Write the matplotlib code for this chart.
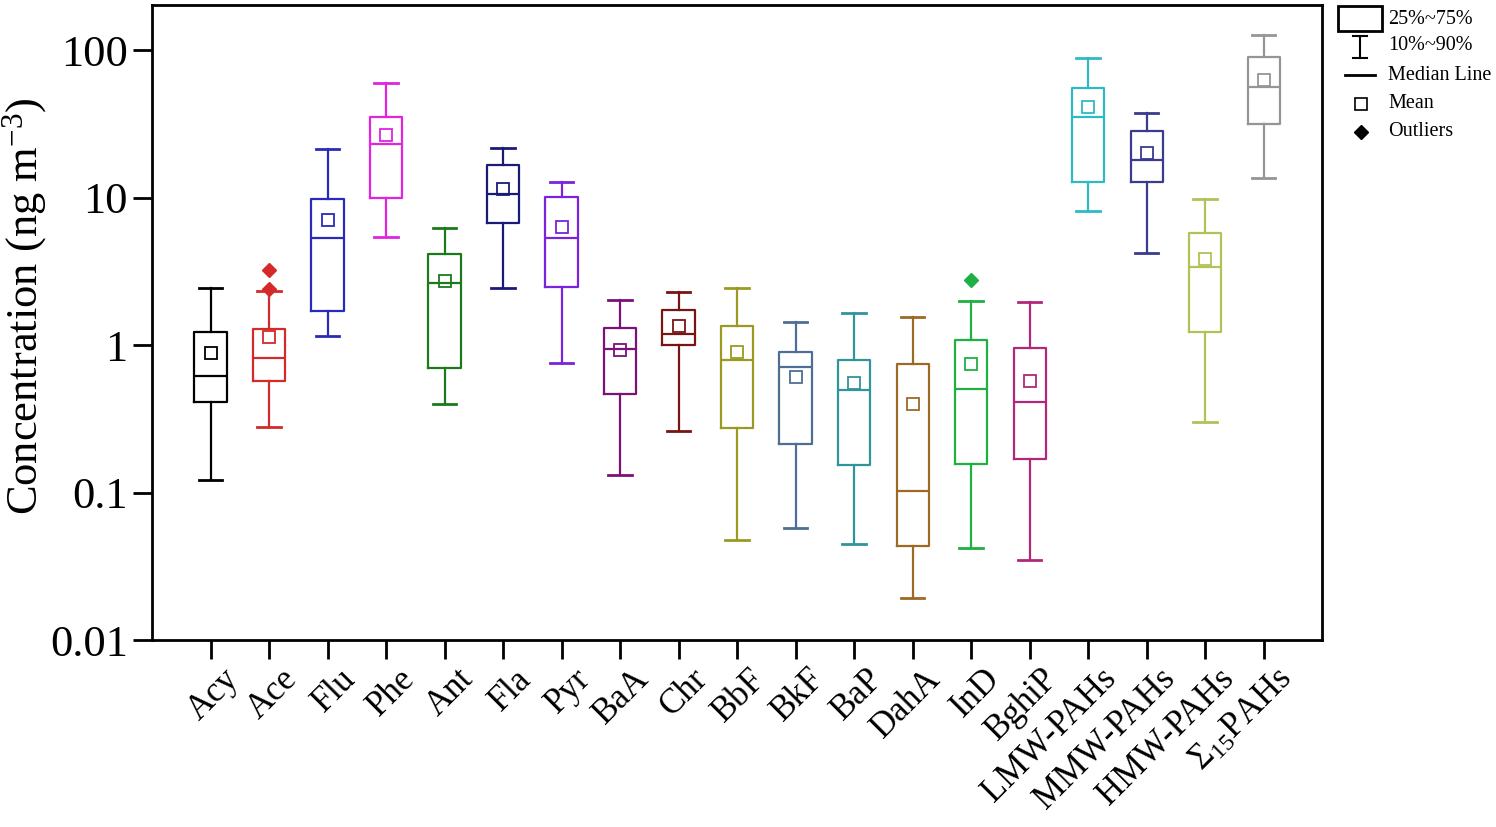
import matplotlib
matplotlib.use("Agg")
import matplotlib.pyplot as plt
import matplotlib.transforms as mtransforms
from matplotlib.patches import Rectangle
from matplotlib.lines import Line2D

plt.rcParams['font.family'] = ['Liberation Serif', 'DejaVu Serif']
plt.rcParams['mathtext.fontset'] = 'custom'
plt.rcParams['mathtext.rm'] = 'Liberation Serif'
plt.rcParams['mathtext.it'] = 'Liberation Serif:italic'

# data (ng m-3)
labels = ["Acy", "Ace", "Flu", "Phe", "Ant", "Fla", "Pyr", "BaA", "Chr", "BbF",
          "BkF", "BaP", "DahA", "InD", "BghiP", "LMW-PAHs", "MMW-PAHs",
          "HMW-PAHs", r"$\Sigma_{15}$PAHs"]
p10 = [0.122, 0.279, 1.16, 5.39, 0.398, 2.44, 0.756, 0.132, 0.263, 0.048,
       0.0577, 0.0451, 0.0192, 0.0419, 0.0347, 8.14, 4.19, 0.299, 13.5]
q25 = [0.414, 0.572, 1.69, 9.87, 0.697, 6.71, 2.47, 0.465, 1.0, 0.275,
       0.212, 0.153, 0.0436, 0.156, 0.168, 12.7, 12.7, 1.22, 31.5]
median = [0.62, 0.815, 5.28, 23.2, 2.63, 10.5, 5.28, 0.946, 1.18, 0.79,
          0.715, 0.495, 0.103, 0.503, 0.41, 35.0, 17.9, 3.36, 55.8]
q75 = [1.23, 1.28, 9.8, 35.1, 4.11, 16.6, 10.1, 1.31, 1.74, 1.35,
       0.90, 0.787, 0.748, 1.08, 0.962, 55.0, 28.1, 5.77, 90.1]
p90 = [2.43, 2.33, 21.2, 59.5, 6.23, 21.8, 12.7, 2.02, 2.30, 2.44,
       1.44, 1.64, 1.56, 1.98, 1.96, 88.7, 37.6, 9.82, 126]
means = [0.88, 1.13, 7.06, 26.5, 2.70, 11.4, 6.31, 0.92, 1.35, 0.90,
         0.605, 0.557, 0.398, 0.743, 0.572, 40.8, 19.9, 3.83, 62.6]
outliers = [[], [2.4, 3.25], [], [], [], [], [], [], [], [],
            [], [], [], [2.78], [], [], [], [], []]
colors = ["#000000", "#d42a2a", "#2a2ab8", "#e024e0", "#1c7a1c", "#1a1a78",
          "#7a22dc", "#7a127a", "#781414", "#9a9a22", "#4d6f93", "#2f949c",
          "#9c6a24", "#1fb043", "#b0287a", "#2ebac4", "#3a3a8e", "#b3c257",
          "#959595"]

fig = plt.figure(figsize=(14.96, 8.27), dpi=100)
ax = fig.add_axes([0.1016, 0.226, 0.7822, 0.768])

for i in range(len(labels)):
    c = colors[i]
    stats = [dict(med=median[i], q1=q25[i], q3=q75[i], whislo=p10[i],
                  whishi=p90[i], mean=means[i], fliers=outliers[i])]
    ax.bxp(stats, positions=[i + 1], widths=0.55, capwidths=0.4,
           showmeans=True, showfliers=True, manage_ticks=False,
           boxprops=dict(color=c, lw=1.6),
           medianprops=dict(color=c, lw=1.6),
           whiskerprops=dict(color=c, lw=1.6),
           capprops=dict(color=c, lw=2),
           meanprops=dict(marker='s', markerfacecolor='none',
                          markeredgecolor=c, markersize=9, mew=1.3),
           flierprops=dict(marker='D', markerfacecolor=c, markeredgecolor=c,
                           markersize=7))

ax.set_yscale('log')
ax.set_ylim(0.01, 202)
ax.set_xlim(0, 20)
ax.set_yticks([0.01, 0.1, 1, 10, 100])
ax.set_yticklabels(["0.01", "0.1", "1", "10", "100"], fontsize=32)
ax.yaxis.set_minor_locator(matplotlib.ticker.NullLocator())
ax.set_xticks(range(1, 20))
ax.set_xticklabels(labels, rotation=45, ha='right', rotation_mode='anchor',
                   fontsize=25)
ax.tick_params(axis='both', direction='out', length=14, width=2)
ax.tick_params(axis='x', pad=2)
shift = mtransforms.ScaledTranslation(12 / 100, 0, fig.dpi_scale_trans)
for lab in ax.get_xticklabels():
    lab.set_transform(lab.get_transform() + shift)
for s in ax.spines.values():
    s.set_linewidth(2)

# y label placed by hand so it is not cut at the left edge
W, H = 1496.0, 827.0
def fx(px):
    return px / W
def fy(py):
    return 1 - py / H

fig.text(fx(25), fy(306), r"Concentration (ng m$^{\mathrm{-3}}$)", fontsize=32,
         rotation=90, ha='center', va='center')

# legend drawn by hand, outside the axes
fig.patches.append(Rectangle((fx(1338), fy(31)), fx(1382) - fx(1338),
                             fy(6) - fy(31), transform=fig.transFigure,
                             fill=False, ec='black', lw=2))
fig.lines.append(Line2D([fx(1360), fx(1360)], [fy(36), fy(58)],
                        transform=fig.transFigure, color='black', lw=1.5))
fig.lines.append(Line2D([fx(1353), fx(1367)], [fy(36), fy(36)],
                        transform=fig.transFigure, color='black', lw=1.5))
fig.lines.append(Line2D([fx(1353), fx(1367)], [fy(58), fy(58)],
                        transform=fig.transFigure, color='black', lw=1.5))
fig.lines.append(Line2D([fx(1345), fx(1375)], [fy(75), fy(75)],
                        transform=fig.transFigure, color='black', lw=2))
fig.lines.append(Line2D([fx(1361)], [fy(104)], transform=fig.transFigure,
                        marker='s', mfc='none', mec='black', ms=9, mew=1.2))
fig.lines.append(Line2D([fx(1361)], [fy(132)], transform=fig.transFigure,
                        marker='D', mfc='black', mec='black', ms=7))
leg_text = ["25%~75%", "10%~90%", "Median Line", "Mean", "Outliers"]
leg_y = [20, 46, 75, 104, 132]
for t, yy in zip(leg_text, leg_y):
    fig.text(fx(1388), fy(yy), t, fontsize=14.5, va='center', ha='left')

fig.savefig("out.png", dpi=100)
